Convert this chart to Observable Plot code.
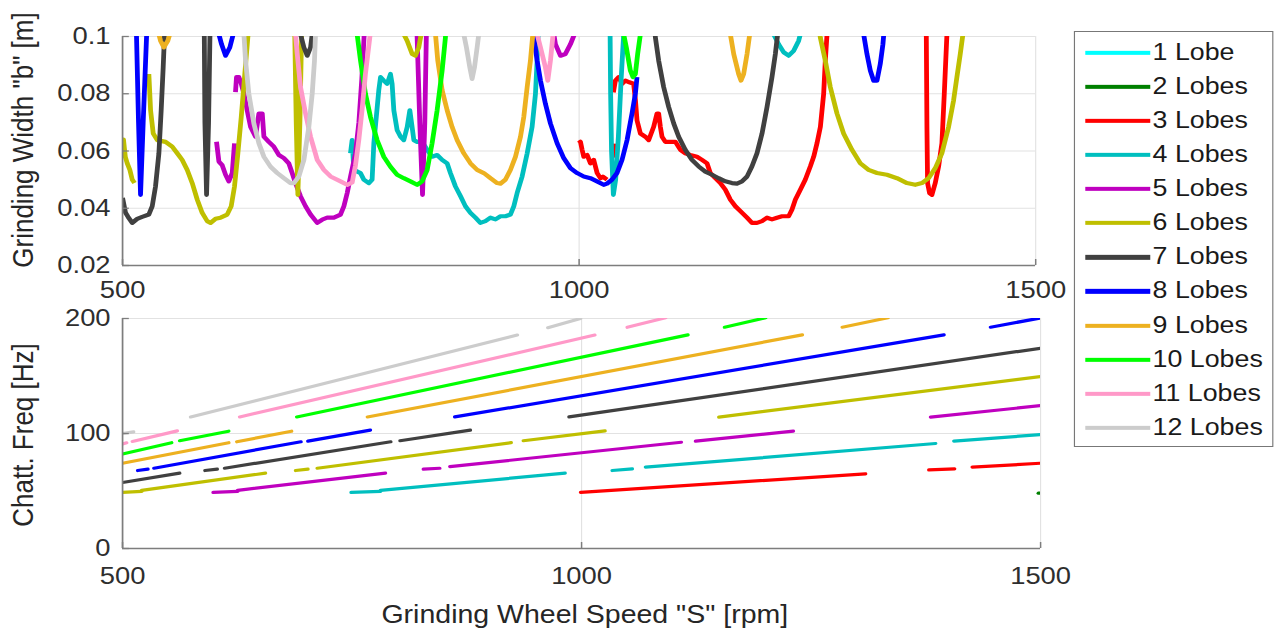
<!DOCTYPE html>
<html><head><meta charset="utf-8">
<script src="https://cdn.jsdelivr.net/npm/d3@7"></script>
<script src="https://cdn.jsdelivr.net/npm/@observablehq/plot@0.6"></script>
<style>
html,body{margin:0;padding:0;background:#fff;overflow:hidden;width:1280px;height:635px}
#fig{position:relative;width:1123px;height:635px;transform:scaleX(1.14);transform-origin:0 0;font-family:"Liberation Sans",Arial,Helvetica,sans-serif;color:#262626}
.pl{position:absolute;left:0}
.ylab{position:absolute;white-space:nowrap;font-size:26px;line-height:1;transform:translate(-50%,-50%) rotate(-90deg)}
.xlab{position:absolute;white-space:nowrap;font-size:25px;line-height:1;transform:translate(-50%,-50%)}
#legend{position:absolute;left:942px;top:31px;width:175px;height:416px;border:1.4px solid #777;box-sizing:border-box;background:#fff}
.row{position:absolute;left:0;width:100%}
.sw{position:absolute;left:8.5px;width:57px;height:4.3px;transform:translateY(-50%)}
.lt{position:absolute;left:68px;font-size:23.5px;line-height:1;white-space:nowrap;transform:translateY(-50%);color:#1a1a1a}
</style></head>
<body><div id="fig"></div>
<script>
// ---------- categories / styling lists ----------
const lobeNames = ["1 Lobe","2 Lobes","3 Lobes","4 Lobes","5 Lobes","6 Lobes","7 Lobes","8 Lobes","9 Lobes","10 Lobes","11 Lobes","12 Lobes"];
const lobeColors = ["#00ffff","#008000","#ff0000","#00bfbf","#bf00bf","#bfbf00","#404040","#0000ff","#edb120","#00ff00","#ff99c8","#cccccc"];
const xTicks = [500, 1000, 1500];
const bTicks = [0.02, 0.04, 0.06, 0.08, 0.1];
const fTicks = [0, 100, 200];

// ---------- top panel: grinding width b [m] vs speed [rpm]; segments of [rpm, b] ----------
const top3 = [
  [[999.6,0.0627],[1001.5,0.0632],[1003.3,0.0604],[1005.1,0.058],[1008.8,0.0586],[1012.4,0.0557],[1016,0.0569],[1019.7,0.0523],[1023.4,0.0505],[1026,0.051],[1030.6,0.05]],
  [[1038,0.0577],[1038.6,0.0626]],
  [[1037.5,0.0805],[1039.7,0.0846],[1043.3,0.0858],[1047,0.0835],[1050.7,0.0846],[1055,0.084],[1059.7,0.0835],[1061.6,0.078],[1063.4,0.0707],[1067.1,0.0661],[1072.5,0.065],[1076.2,0.0638],[1081.6,0.0684],[1085.3,0.0731],[1087.1,0.0731],[1089,0.0684],[1090.8,0.065],[1094.4,0.0632],[1099.9,0.0632],[1105.4,0.0632],[1110.9,0.0604],[1116.3,0.0592],[1121.8,0.0586],[1129.1,0.058],[1134.6,0.0569],[1140.1,0.0557],[1143.7,0.0523],[1149.2,0.0505],[1154.7,0.0488],[1160.1,0.0465],[1165.6,0.043],[1171.1,0.0407],[1176.6,0.039],[1183.9,0.0367],[1189.3,0.0349],[1194.8,0.0349],[1200.3,0.0355],[1205.8,0.0367],[1211.2,0.0361],[1216.7,0.0367],[1222.2,0.0372],[1229.5,0.0372],[1233.1,0.0395],[1236.8,0.043],[1242.3,0.0465],[1247.7,0.05],[1253.2,0.0546],[1256.9,0.058],[1260.5,0.0627],[1264.2,0.0684],[1267.8,0.08],[1269.6,0.0916],[1271.5,0.1008],[1272.5,0.106]],
  [[1379.8,0.106],[1380.2,0.1008],[1380.9,0.0684],[1381.6,0.0488],[1383.8,0.0453],[1386.4,0.0447],[1390,0.0488],[1393.7,0.0546],[1397.3,0.0627],[1399.9,0.08],[1402.8,0.1008],[1403.3,0.106]]
];
const top4 = [
  [[749.6,0.0592],[751.4,0.0638],[753.3,0.0534],[760.6,0.0523],[764.2,0.05],[769.7,0.0488],[773.3,0.05],[775.2,0.0627],[780.6,0.0812],[782.5,0.0858],[786.1,0.0846],[789.8,0.0835],[793.4,0.0869],[795.2,0.0835],[797.1,0.0742],[800.7,0.0673],[804.4,0.065],[808,0.0638],[811.7,0.0684],[814.6,0.0742],[817.1,0.0684],[819,0.0638],[822.6,0.0632],[828.1,0.0632],[833.6,0.0604],[839,0.058],[844.5,0.0586],[850,0.0569],[855.5,0.0557],[859.1,0.0523],[864.6,0.0476],[870.1,0.0442],[875.5,0.0407],[881,0.0384],[886.5,0.0367],[891.9,0.0349],[897.4,0.0355],[902.9,0.0367],[908.4,0.0361],[913.9,0.0372],[919.3,0.0372],[924.8,0.0378],[928.5,0.0407],[932.1,0.0453],[937.6,0.0511],[943.1,0.0592],[948.5,0.0684],[952.2,0.08],[954,0.0916],[955.1,0.1008],[955.5,0.106]],
  [[1033.8,0.106],[1034.5,0.08],[1035.5,0.06],[1037.5,0.0447],[1040,0.05],[1043,0.065],[1046,0.085],[1048.8,0.1008],[1049.3,0.106]],
  [[1212,0.106],[1213,0.1008],[1218.5,0.0973],[1224,0.0945],[1229.5,0.0933],[1234.9,0.095],[1240.4,0.0985],[1242.3,0.1008],[1243,0.106]]
];
const top5 = [
  [[602.9,0.0632],[605.5,0.0563],[609.1,0.0551],[612.8,0.0517],[616.4,0.0494],[620.1,0.0523],[622.6,0.0627]],
  [[623.7,0.0806],[624.8,0.0858],[627.4,0.0858],[630,0.0835],[632.9,0.08],[636.5,0.0742],[640.2,0.0684],[645.6,0.065],[649.3,0.0731],[653,0.0731],[654.8,0.065],[660.2,0.0632],[665.7,0.0615],[671.2,0.0586],[676.7,0.0575],[682.1,0.0557],[685.8,0.0523],[689.4,0.0488],[694.9,0.0442],[700.4,0.0407],[705.9,0.0378],[713.2,0.0349],[718.6,0.036],[724.1,0.0367],[731.4,0.0367],[738.7,0.0378],[742.4,0.0407],[746,0.0453],[749.7,0.0511],[755.1,0.0592],[758.8,0.07],[762,0.085],[764.5,0.1],[766,0.106]],
  [[822,0.106],[825.5,0.07],[828.5,0.0447],[831,0.07],[833,0.106]],
  [[972,0.106],[972.3,0.1008],[974.1,0.0973],[979.6,0.0933],[985,0.0939],[990.5,0.0973],[994.9,0.1008],[996,0.106]]
];
const top6 = [
  [[500,0.0595],[501,0.064],[503,0.058],[505.1,0.0557],[508,0.0534],[510.6,0.05],[513.1,0.0488]],
  [[528.8,0.0869],[530.7,0.0742],[533.6,0.0661],[538,0.0638],[547.1,0.0632],[554.4,0.0615],[559.9,0.0592],[565.3,0.0569],[570.8,0.0534],[576.3,0.0488],[581.8,0.043],[587.2,0.0384],[592.7,0.0355],[596.4,0.0349],[601.8,0.0363],[607.3,0.0367],[614.6,0.0378],[619,0.0407],[622.6,0.0476],[626.3,0.0592],[630,0.0719],[633.6,0.0858],[637.2,0.0997],[638.7,0.106]],
  [[688.3,0.106],[690.2,0.07],[692,0.0447],[694.2,0.07],[696.4,0.106]],
  [[807,0.106],[808,0.1008],[811.7,0.0985],[817.1,0.0939],[820.8,0.0933],[824.4,0.0962],[827,0.1008],[828.1,0.106]],
  [[1262,0.106],[1264.1,0.0997],[1269.6,0.0916],[1275.1,0.0823],[1282.4,0.0731],[1289.7,0.0661],[1298.8,0.0604],[1307.9,0.0557],[1317,0.0534],[1326.2,0.0523],[1337.1,0.0517],[1348.1,0.0505],[1359,0.0488],[1368.1,0.0482],[1375.4,0.0488],[1382.7,0.0505],[1390,0.054],[1397.3,0.0592],[1404.6,0.0684],[1410.1,0.0777],[1413.7,0.0858],[1417.4,0.0939],[1420.3,0.1008],[1421,0.106]]
];
const top7 = [
  [[500,0.0436],[503.3,0.0384],[506,0.037],[510.6,0.0349],[516,0.0363],[521.5,0.037],[528.8,0.0378],[532.5,0.0407],[536.1,0.0476],[539.8,0.0592],[542.3,0.0742],[544.5,0.0892],[546,0.1008],[546.5,0.106]],
  [[589.4,0.106],[590.2,0.07],[592,0.0447],[594.2,0.07],[596,0.106]],
  [[694,0.106],[694.9,0.1008],[698.6,0.0962],[702.2,0.0933],[705.9,0.0962],[707.7,0.1008],[708.5,0.106]],
  [[1082.5,0.106],[1083.5,0.0997],[1087.1,0.0916],[1092.6,0.0823],[1098.1,0.0754],[1103.6,0.0696],[1109,0.065],[1116.3,0.0604],[1123.6,0.0569],[1130.9,0.0546],[1138.2,0.0528],[1145.5,0.0517],[1152.8,0.0505],[1160.1,0.0494],[1167.4,0.0488],[1172.9,0.0486],[1178.4,0.0494],[1183.9,0.0511],[1189.3,0.0546],[1194.8,0.0592],[1200.3,0.0661],[1205.8,0.0754],[1211.2,0.0858],[1214.9,0.0939],[1217.4,0.1008],[1218,0.106]]
];
const top8 = [
  [[514.5,0.106],[515.3,0.1],[517.5,0.07],[519.7,0.0447],[522.6,0.07],[526.3,0.1],[527,0.106]],
  [[605,0.106],[605.5,0.1008],[608.4,0.0973],[612.8,0.0933],[617.5,0.0962],[621.2,0.1008],[622.6,0.106]],
  [[949.8,0.106],[950.4,0.0997],[954,0.0916],[957.7,0.0846],[963.1,0.0765],[968.6,0.0696],[975.9,0.0627],[983.2,0.0575],[990.5,0.054],[997.8,0.0523],[1005.1,0.0511],[1012.4,0.0505],[1019.6,0.0494],[1026.9,0.0482],[1030.6,0.0486],[1036,0.05],[1041.5,0.0523],[1047,0.0569],[1052.5,0.0638],[1057.9,0.0731],[1061.6,0.08],[1063.4,0.0858]],
  [[1311,0.106],[1311.6,0.1008],[1315.2,0.0939],[1318.9,0.0881],[1322.5,0.0846],[1326.2,0.0846],[1329.8,0.0904],[1332.7,0.0973],[1334.2,0.103],[1334.6,0.106]]
];
const top9 = [
  [[537.5,0.106],[538,0.103],[541.6,0.0985],[545.3,0.0962],[549.6,0.0985],[553.7,0.103],[554.3,0.106]],
  [[842,0.106],[842.7,0.1008],[845.2,0.0916],[850,0.0812],[855.5,0.0742],[860.9,0.0684],[866.4,0.0638],[873.7,0.0592],[881,0.0557],[888.3,0.0534],[895.6,0.0523],[902.9,0.0505],[910.2,0.0488],[913.9,0.0486],[919.3,0.05],[924.8,0.0534],[930.3,0.058],[935.8,0.065],[939.4,0.0719],[943.1,0.0823],[946.7,0.0916],[949.3,0.1008],[950,0.106]],
  [[1165,0.106],[1165.6,0.1008],[1169.3,0.0939],[1174.7,0.0869],[1177.3,0.0846],[1180.2,0.0869],[1183.9,0.0939],[1186.8,0.1008],[1187.4,0.106]]
];
const top10 = [
  [[756,0.106],[756.9,0.1008],[760.6,0.0916],[766,0.08],[771.5,0.0719],[778.8,0.0638],[786.1,0.058],[793.4,0.0545],[800.7,0.0517],[808,0.0505],[815.3,0.0494],[822.6,0.0482],[828.1,0.0494],[833.6,0.0534],[839,0.0627],[844.5,0.0742],[850,0.0881],[853.6,0.0997],[854.2,0.106]],
  [[1048.2,0.106],[1048.8,0.1008],[1051.7,0.0962],[1056.1,0.0881],[1059,0.0858],[1061.6,0.0869],[1064.1,0.0939],[1067.1,0.1008],[1067.6,0.106]]
];
const top11 = [
  [[689,0.106],[689.4,0.1008],[691.3,0.0939],[694.9,0.0823],[700.4,0.0731],[705.9,0.065],[713.2,0.0569],[720.5,0.0534],[727.8,0.0511],[738.7,0.0494],[746,0.0482],[751.5,0.049],[755.1,0.055],[758.8,0.064],[762.5,0.075],[766,0.087],[770.8,0.0997],[772.2,0.106]],
  [[953.5,0.106],[954,0.1008],[957.7,0.0962],[963.1,0.0892],[965.7,0.0846],[968.6,0.0916],[971.5,0.1008],[972,0.106]]
];
const top12 = [
  [[632.5,0.106],[632.9,0.1008],[634.7,0.0916],[638.3,0.08],[643.8,0.0696],[649.3,0.0627],[654.8,0.058],[662.1,0.0545],[669.4,0.0523],[676.7,0.0505],[684,0.0488],[687.6,0.0488],[693.1,0.0511],[698.6,0.0569],[704,0.0684],[707.7,0.08],[710.2,0.0916],[711.3,0.1008],[711.8,0.106]],
  [[873.2,0.106],[873.7,0.1008],[876.6,0.0962],[880.3,0.0892],[882.8,0.0852],[885.4,0.0892],[888.3,0.0962],[890.1,0.1008],[890.6,0.106]]
];

// ---------- bottom panel: chatter frequency [Hz]; segments [rpm1, f1, rpm2, f2] ----------
const bot2 = [[1497.6,48.1,1499.6,48.1]];
const bot3 = [[999,48.8,1309.3,64.9],[1378.3,68.4,1406.3,69.3],[1425.6,70.7,1500.7,74.2]];
const bot4 = [[749,48.8,781,49.7],[781,50.6,982,65.5],[1033.4,67.8,1055.2,69.3],[1069.7,70.7,1385.6,91.3],[1405.6,93.3,1500.7,99.1]];
const bot5 = [[598.7,48.8,625.4,49.7],[625.4,50.6,786.3,65.5],[827.7,69,845.5,69.8],[856.6,71.2,1108.6,92.4],[1124.2,93.3,1230.6,102],[1380.2,114.2,1500.7,124.3]];
const bot6 = [[500,48.8,520.9,49.7],[520.9,50.6,655.6,65.5],[688.5,67.8,701.9,69],[712.1,69.8,923.3,92],[936.6,93.7,1025.5,102.3],[1149.6,114.2,1500.7,149.6]];
const bot7 = [[500,57.4,562.2,65.5],[589.8,67.8,603.1,69],[611.2,69.8,792.1,92.8],[802.3,93.7,878.8,102.9],[986.4,114.4,1500,174.2]];
const bot8 = [[516.5,67.8,527.6,69],[534.2,69.8,694.3,92.8],[701.9,93.4,769.9,102.9],[861.9,114.4,1394.7,185.8],[1445.5,192.4,1500.7,200.6]];
const bot9 = [[500,74.1,615.6,92],[624.5,92.8,684,102],[766.8,114.4,1240.4,185.8],[1284,192.4,1333.7,200.6]];
const bot10 = [[500,82.2,553.4,92],[562.2,93.7,615.6,102],[689.8,114.4,1115.8,185.8],[1155.8,192.4,1200.5,200.6]];
const bot11 = [[500,90.8,504.4,91.9],[510.7,93.1,559.6,102.3],[627.6,114.4,1014.4,185.6],[1049.8,192.4,1091.5,200.6]];
const bot12 = [[500,100,512,101.4],[574.2,114.4,930,185.6],[963.3,192,998.8,200]];

// ---------- tables built from the lists ----------
const topSeries = [[], [], top3, top4, top5, top6, top7, top8, top9, top10, top11, top12];
const botSeries = [[], bot2, bot3, bot4, bot5, bot6, bot7, bot8, bot9, bot10, bot11, bot12];
const topRows = [];
topSeries.forEach((segs, i) => segs.forEach((seg, j) => seg.forEach(([x, y]) =>
  topRows.push({lobe: lobeNames[i], key: i + "-" + j, x, y, color: lobeColors[i]}))));
const botRows = [];
botSeries.forEach((segs, i) => segs.forEach(([x1, y1, x2, y2]) =>
  botRows.push({lobe: lobeNames[i], x1, y1, x2, y2, color: lobeColors[i]})));

const AX = "#7d7d7d", GRID = "#e2e2e2", TXT = "#2e2e2e";
const FONT = '"Liberation Sans", Arial, Helvetica, sans-serif';
const fig = document.getElementById("fig");

function panel({height, marginTop, marginBottom, marginRight, yDomain, yTicks, yFmt, series, padX, tickLenY}) {
  const width = 930, marginLeft = 107;
  const plotW = width - marginLeft - marginRight, plotH = height - marginTop - marginBottom;
  const xPerPx = 1000 / plotW, yPerPx = (yDomain[1] - yDomain[0]) / plotH;
  return Plot.plot({
    width, height, marginLeft, marginRight, marginTop, marginBottom,
    style: {fontFamily: FONT, fontSize: "24px", color: TXT, background: "transparent", overflow: "visible"},
    x: {domain: [500, 1500]},
    y: {domain: yDomain},
    color: {type: "identity"},
    marks: [
      Plot.gridX(xTicks, {stroke: GRID, strokeOpacity: 1, strokeWidth: 1}),
      Plot.gridY(yTicks, {stroke: GRID, strokeOpacity: 1, strokeWidth: 1}),
      ...series,
      Plot.ruleX([500], {stroke: AX, strokeWidth: 1.5}),
      Plot.ruleY([yDomain[0]], {stroke: AX, strokeWidth: 1.5}),
      Plot.ruleX(xTicks, {x: d => d, y1: yDomain[0], y2: yDomain[0] + 6 * yPerPx, stroke: AX, strokeWidth: 1.3}),
      Plot.ruleY(yTicks, {y: d => d, x1: 500, x2: 500 + tickLenY * xPerPx, stroke: AX, strokeWidth: 1.3}),
      Plot.axisX(xTicks, {tickSize: 0, tickPadding: padX, tickFormat: d => String(d), label: null, fill: TXT}),
      Plot.axisY(yTicks, {tickSize: 0, tickPadding: 10.5, tickFormat: yFmt, label: null, fill: TXT})
    ]
  });
}

const topPlot = panel({
  height: 300, marginTop: 36, marginBottom: 35, marginRight: 22,
  yDomain: [0.02, 0.1], yTicks: bTicks, yFmt: d => String(d), padX: 15, tickLenY: 6,
  series: [Plot.line(topRows, {x: "x", y: "y", z: "key", stroke: "color", strokeWidth: 4.2, clip: true, strokeLinejoin: "round", strokeLinecap: "butt", curve: "linear"})]
});
topPlot.classList.add("pl"); topPlot.style.top = "0px";
fig.appendChild(topPlot);

const botPlot = panel({
  height: 335, marginTop: 18, marginBottom: 87, marginRight: 17.7,
  yDomain: [0, 200], yTicks: fTicks, yFmt: d => String(d), padX: 18, tickLenY: 6,
  series: [Plot.link(botRows, {x1: "x1", y1: "y1", x2: "x2", y2: "y2", stroke: "color", strokeWidth: 3.2, clip: true, strokeLinecap: "round"})]
});
botPlot.classList.add("pl"); botPlot.style.top = "300px";
fig.appendChild(botPlot);

// axis titles
function addText(cls, text, left, top) {
  const d = document.createElement("div");
  d.className = cls; d.textContent = text;
  d.style.left = left + "px"; d.style.top = top + "px";
  fig.appendChild(d);
}
addText("ylab", 'Grinding Width "b" [m]', 19.5, 140);
addText("ylab", 'Chatt. Freq [Hz]', 19.5, 435);
addText("xlab", 'Grinding Wheel Speed "S" [rpm]', 513, 614);

// legend
const leg = document.createElement("div");
leg.id = "legend";
lobeNames.forEach((name, i) => {
  const r = document.createElement("div");
  r.className = "row";
  r.style.top = (20.7 + 34.1 * i) + "px";
  const sw = document.createElement("span");
  sw.className = "sw"; sw.style.background = lobeColors[i];
  const t = document.createElement("span");
  t.className = "lt"; t.textContent = name;
  r.appendChild(sw); r.appendChild(t);
  leg.appendChild(r);
});
fig.appendChild(leg);
</script>
</body></html>
